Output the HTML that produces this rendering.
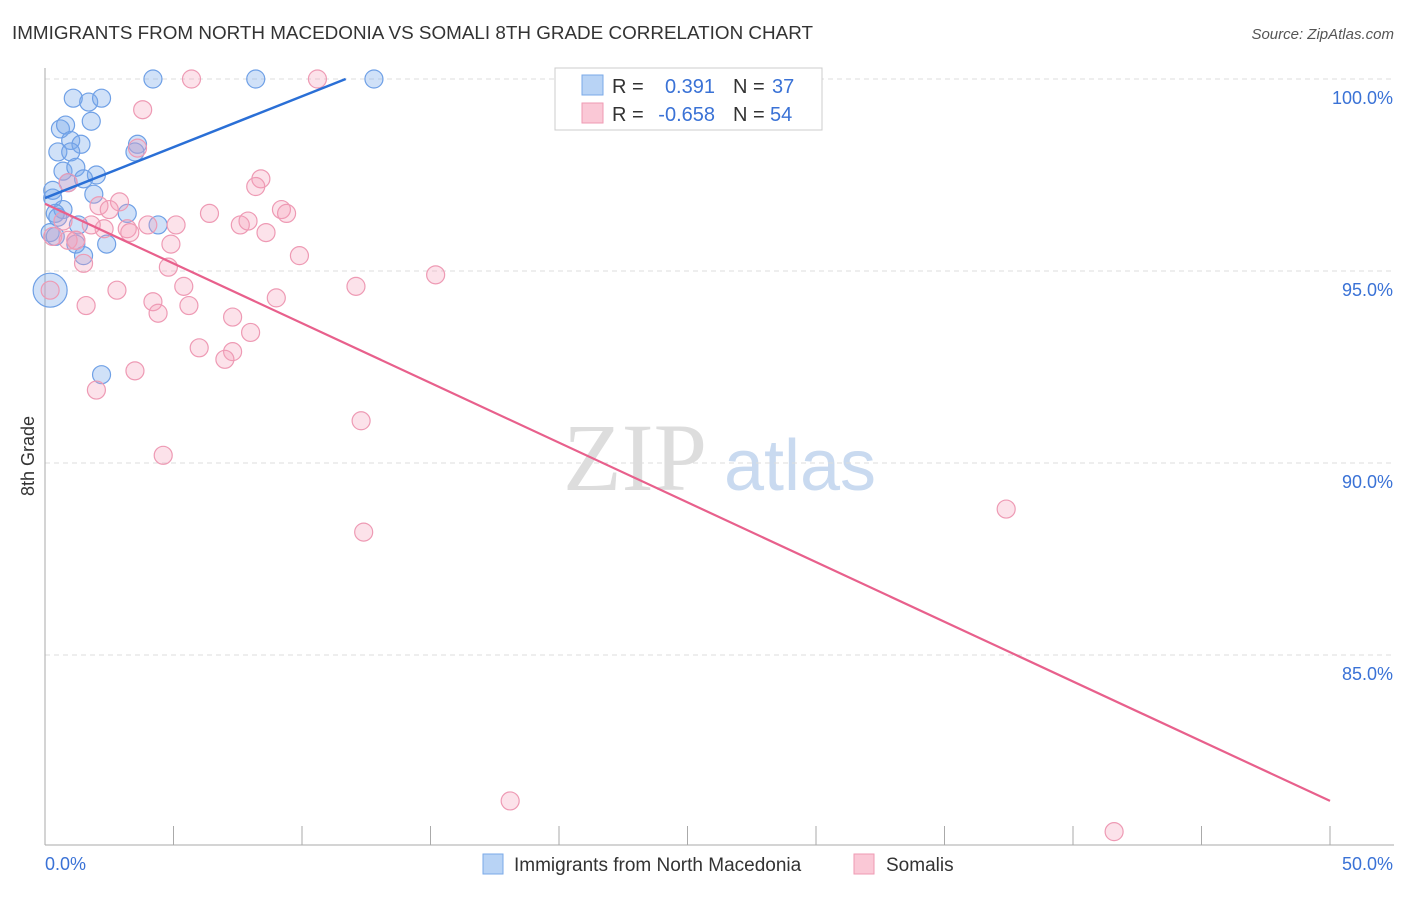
<!DOCTYPE html>
<html><head><meta charset="utf-8"><style>
body{margin:0;background:#fff;font-family:"Liberation Sans",sans-serif}
svg text{font-family:"Liberation Sans",sans-serif}
</style></head><body>
<svg id="chart" width="1406" height="892" viewBox="0 0 1406 892" xmlns="http://www.w3.org/2000/svg">
<text x="12" y="39" font-size="18.5" fill="#333" textLength="801" lengthAdjust="spacingAndGlyphs">IMMIGRANTS FROM NORTH MACEDONIA VS SOMALI 8TH GRADE CORRELATION CHART</text>
<text x="1394" y="39" font-size="15" fill="#555" text-anchor="end" font-style="italic">Source: ZipAtlas.com</text>
<text x="34" y="456" font-size="18" fill="#333" text-anchor="middle" transform="rotate(-90 34 456)">8th Grade</text>
<g><text x="635" y="490" font-size="96" fill="#ddd" text-anchor="middle" font-family="Liberation Serif" style="font-family:'Liberation Serif',serif">ZIP</text><text x="800" y="490" font-size="72" fill="#c9daf0" text-anchor="middle">atlas</text></g>
<g id="grid"></g><g id="axes"></g><g id="pts"></g><g id="lines"></g>
<g>
<rect x="555" y="68" width="267" height="62" fill="#fff" stroke="#ccc"/>
<rect x="582" y="75" width="21" height="20" fill="#b8d3f5" stroke="#7aaae8"/>
<rect x="582" y="103" width="21" height="20" fill="#fac8d6" stroke="#ef9ab3"/>
<text x="612" y="93" font-size="20" fill="#333">R =</text><text x="715" y="93" font-size="20" fill="#3a72d6" text-anchor="end">0.391</text>
<text x="733" y="93" font-size="20" fill="#333">N =</text><text x="772" y="93" font-size="20" fill="#3a72d6">37</text>
<text x="612" y="121" font-size="20" fill="#333">R =</text><text x="715" y="121" font-size="20" fill="#3a72d6" text-anchor="end">-0.658</text>
<text x="733" y="121" font-size="20" fill="#333">N =</text><text x="770" y="121" font-size="20" fill="#3a72d6">54</text>
</g>
<g>
<rect x="483" y="854" width="20" height="20" fill="#b8d3f5" stroke="#7aaae8"/>
<text x="514" y="871" font-size="19" fill="#333">Immigrants from North Macedonia</text>
<rect x="854" y="854" width="20" height="20" fill="#fac8d6" stroke="#ef9ab3"/>
<text x="886" y="871" font-size="19" fill="#333">Somalis</text>
</g>
</svg>
<script>
const yTicks=[100,95,90,85];
const yTickLabels=["100.0%","95.0%","90.0%","85.0%"];
const blueX=[4.2,8.2,12.8,1.1,1.7,2.2,1.8,0.6,0.8,1.0,1.4,0.5,1.0,3.6,3.5,0.7,1.2,2.0,1.5,0.9,0.3,1.9,0.3,0.7,0.4,0.5,3.2,1.3,4.4,0.2,0.4,1.2,2.4,1.5,0.2,2.2];
const blueY=[100,100,100,99.5,99.4,99.5,98.9,98.7,98.8,98.4,98.3,98.1,98.1,98.3,98.1,97.6,97.7,97.5,97.4,97.3,97.1,97.0,96.9,96.6,96.5,96.4,96.5,96.2,96.2,96.0,95.9,95.7,95.7,95.4,94.5,92.3];
const pinkX=[5.7,10.6,3.8,3.6,8.4,8.2,0.9,2.9,6.4,9.2,9.4,2.1,2.5,7.6,7.9,8.6,5.1,4.0,3.2,3.3,2.3,1.8,0.7,0.3,0.9,1.2,4.9,9.9,15.2,4.8,1.5,0.2,2.8,5.4,12.1,1.6,4.2,4.4,5.6,9.0,7.3,8.0,6.0,7.3,7.0,3.5,2.0,12.3,4.6,37.4,12.4,18.1,41.6,1.2];
const pinkY=[100,100,99.2,98.2,97.4,97.2,97.3,96.8,96.5,96.6,96.5,96.7,96.6,96.2,96.3,96.0,96.2,96.2,96.1,96.0,96.1,96.2,96.3,95.9,95.8,95.8,95.7,95.4,94.9,95.1,95.2,94.5,94.5,94.6,94.6,94.1,94.2,93.9,94.1,94.3,93.8,93.4,93.0,92.9,92.7,92.4,91.9,91.1,90.2,88.8,88.2,81.2,80.4,95.8];
const blueLineX=[0,11.7];const blueLineY=[96.9,100];
const pinkLineX=[0,50];const pinkLineY=[96.75,81.2];
const X0=45,X1=1330,Y0=79,PPY=38.4;
const xs=v=>X0+(X1-X0)*v/50, ys=v=>Y0+(100-v)*PPY;
const NS="http://www.w3.org/2000/svg";
function mk(t,a,p){const e=document.createElementNS(NS,t);for(const k in a)e.setAttribute(k,a[k]);p.appendChild(e);return e;}
const grid=document.getElementById('grid'),axes=document.getElementById('axes');
yTicks.forEach((t,i)=>{
 const g=mk('line',{x1:X0,x2:1394,y1:ys(t),y2:ys(t),stroke:'#ddd','stroke-dasharray':'5,4'},grid);
 
 
 const l=mk('text',{x:1393,y:ys(t)+25,'font-size':18,fill:'#3a72d6','text-anchor':'end'},axes);l.textContent=yTickLabels[i];
 
 
});
mk('line',{x1:X0,x2:X0,y1:68,y2:845,stroke:'#aaa'},axes);
mk('line',{x1:X0,x2:1394,y1:845,y2:845,stroke:'#aaa'},axes);
for(let i=0;i<=10;i++){mk('line',{x1:xs(i*5),x2:xs(i*5),y1:826,y2:845,stroke:'#aaa'},axes);}
let t=mk('text',{x:45,y:870,'font-size':18,fill:'#3a72d6'},axes);t.textContent='0.0%';


t=mk('text',{x:1393,y:870,'font-size':18,fill:'#3a72d6','text-anchor':'end'},axes);t.textContent='50.0%';


const pts=document.getElementById('pts');
blueX.forEach((x,i)=>{const r=i===34?17:9;const c=mk('circle',{cx:xs(x),cy:ys(blueY[i]),r:r,fill:'rgba(120,170,235,0.35)',stroke:'#6fa0e6','stroke-width':1.2},pts);
 
 });
pinkX.forEach((x,i)=>{const c=mk('circle',{cx:xs(x),cy:ys(pinkY[i]),r:9,fill:'rgba(245,160,185,0.3)',stroke:'#ee9ab4','stroke-width':1.2},pts);
 
 });
const lines=document.getElementById('lines');
let ln=mk('line',{x1:xs(blueLineX[0]),y1:ys(blueLineY[0]),x2:xs(blueLineX[1]),y2:ys(blueLineY[1]),stroke:'#2a6fd6','stroke-width':2.5},lines);


ln=mk('line',{x1:xs(pinkLineX[0]),y1:ys(pinkLineY[0]),x2:xs(pinkLineX[1]),y2:ys(pinkLineY[1]),stroke:'#e8608c','stroke-width':2.2},lines);


</script>
</body></html>
